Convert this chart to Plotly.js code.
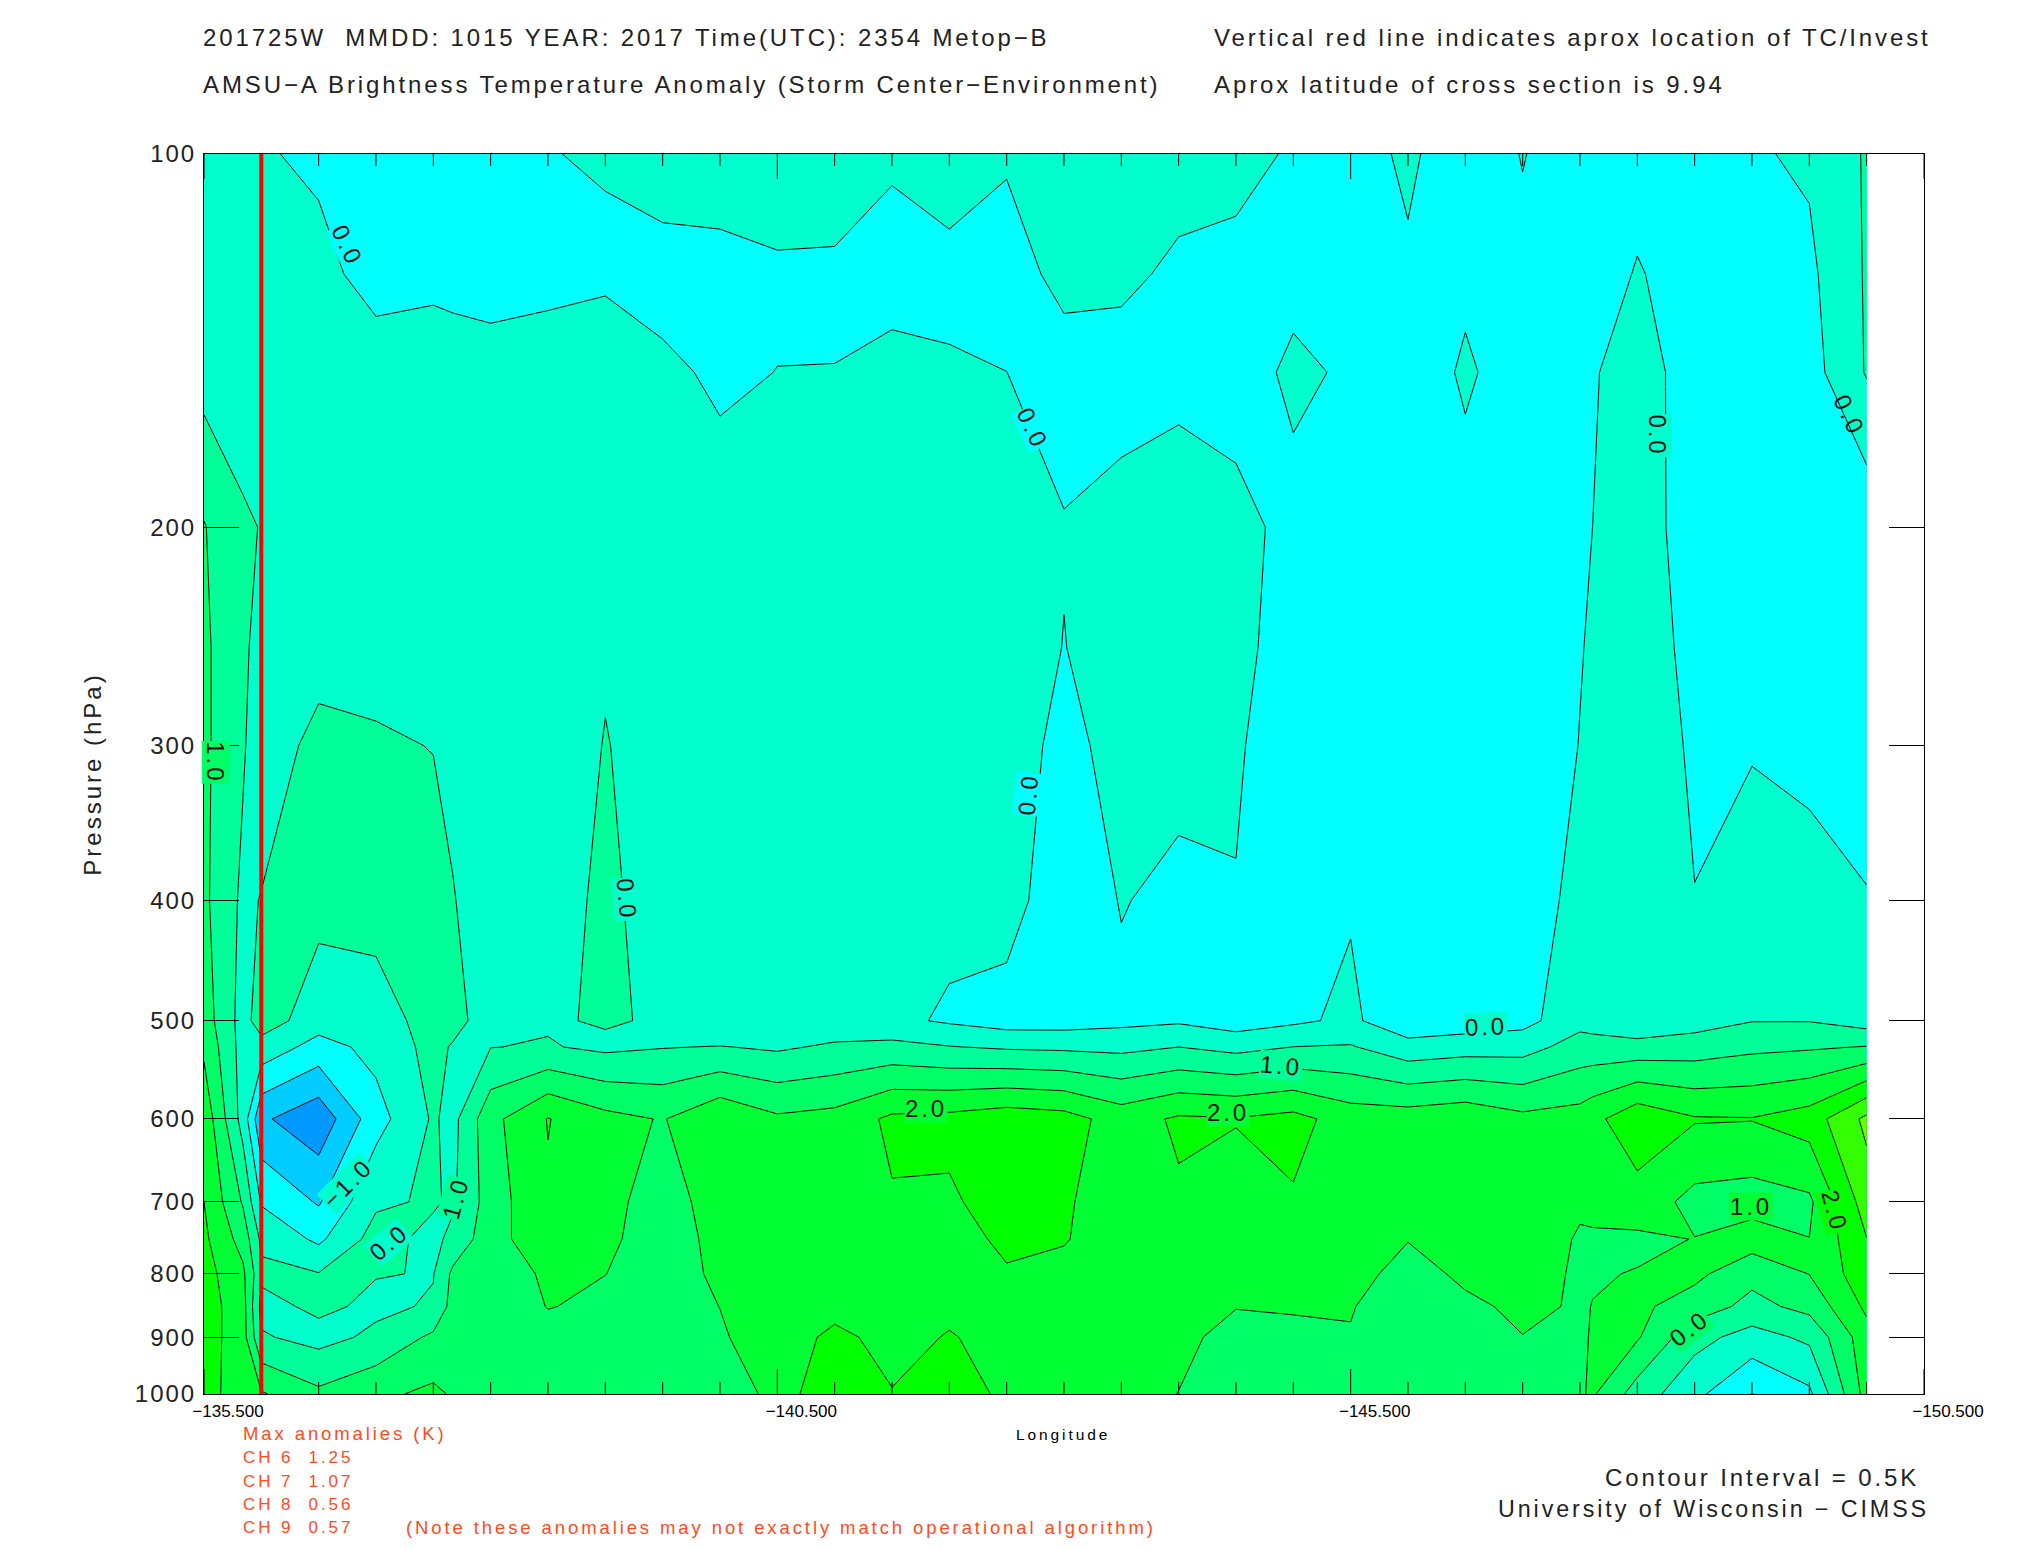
<!DOCTYPE html>
<html>
<head>
<meta charset="utf-8">
<script src="https://cdn.plot.ly/plotly-3.0.1.min.js"></script>
<style>
html,body{margin:0;padding:0;background:#fff}
.annotation-text{letter-spacing:2.9px}
.ytick text{letter-spacing:2px}
.g-ytitle text{letter-spacing:3px}
</style>
</head>
<body>
<div id="chart" style="width:2025px;height:1550px"></div>
<script>
const pressureLevels = [100,125,150,200,250,300,400,500,525,600,700,750,800,850,900,1000];
const longitudes = [-135.5,-135.84,-136,-136.5,-137,-137.5,-137.67,-138,-138.5,-139,-139.5,-140,-140.5,-141,-141.5,-142,-142.5,-143,-143.5,-144,-144.5,-145,-145.5,-146,-146.5,-147,-147.5,-147.61,-148,-148.5,-149,-149.5,-150];
const anomalyColumns = [
[.3,.3,.3,1.03,1.1,1.1,1.1,1.25,1.41,1.85,2.0,2.1,2.2,2.25,2.25,2.3],
[.2,.2,.35,.54,.55,.55,.4,.3,.3,.3,.95,1.3,1.6,1.7,1.7,1.6],
[.05,.1,.4,.49,.4,.22,.52,.75,.31,-.92,-.05,.4,.6,.35,.55,1.55],
[-.1,.158,.4,.3,.3,.65,.65,.23,-.19,-1.35,-.55,-.1,.52,.6,.34,1.1],
[-.3,-.2,.265,.3,.35,.55,.7,.27,.147,-.195,.42,.7,.52,.4,.6,1.4],
[-.3,-.15,.325,.3,.3,.49,.65,.7,.66,.56,.56,.35,.48,.55,1.1,1.6],
[-.3,-.17,.26,.3,.3,.4,.52,.7,.45,.35,.42,.65,1.1,1.2,1.25,1.45],
[-.3,-.2,.2,.3,.3,.3,.28,.2,.49,1.35,1.25,1.3,1.15,1.1,1.2,1.3],
[-.015,-.15,.255,.3,.25,.2,.33,.445,.537,2.02,1.94,1.85,1.6,1.52,1.3,1.3],
[.045,-.1,.35,.3,.45,.52,.58,.55,.4,1.65,1.6,1.57,1.505,1.4,1.3,1.25],
[.2,-.15,.077,.3,.3,.3,.33,.445,.48,1.47,1.35,1.33,1.3,1.3,1.3,1.2],
[.25,-.15,-.063,.16,.3,.3,.3,.02,.52,1.92,1.65,1.6,1.58,1.505,1.45,1.1],
[.3,-.075,.005,.3,.3,.3,.3,.02,.43,1.58,1.8,1.8,1.8,1.8,1.75,1.7],
[.3,-.09,.009,.3,.3,.3,.3,.18,.575,1.67,1.75,1.8,1.8,1.85,2.11,2.46],
[.1,-.28,.215,.3,.3,.3,.3,.116,.64,2.1,1.96,1.9,1.85,1.85,1.85,2.02],
[.25,-.15,.06,.3,.3,.3,.15,-.067,.52,2.15,1.92,1.8,1.85,1.9,2.03,2.3],
[.08,-.3,.003,.3,.35,.425,.25,-.233,.44,2.3,2.25,2.1,1.955,1.85,1.85,1.88],
[.3,.2,-.3,.04,-.015,-.25,-.4,-.23,.41,2.2,2.07,2.03,1.88,1.85,1.85,1.85],
[.3,.1,-.2,.164,.3,.3,.03,-.133,.374,1.78,1.7,1.75,1.75,1.75,1.75,1.75],
[.2,-.09,-.2,.39,.3,.2,-.145,-.065,.5,2.07,1.94,1.85,1.75,1.7,1.65,1.49],
[.15,-.14,-.233,.164,.25,.08,-.03,-.256,.35,2.03,1.75,1.7,1.6,1.52,1.3,1.25],
[-.053,-.15,.1,-.156,-.4,-.4,-.3,-.09,.506,2.16,1.95,1.85,1.7,1.53,1.42,1.3],
[-.29,-.2,-.07,-.3,-.3,-.3,-.047,.1,.54,1.77,1.8,1.8,1.7,1.53,1.47,1.3],
[.12,-.1,-.43,-.3,-.3,-.3,-.3,-.37,.19,1.76,1.7,1.52,1.3,1.2,1.2,1.2],
[-.42,-.144,.1,-.27,-.3,-.3,-.3,-.286,.285,1.87,1.8,1.7,1.6,1.4,1.3,1.2],
[.03,-.17,-.35,-.35,-.3,-.3,-.3,-.165,.31,1.63,1.75,1.7,1.65,1.6,1.49,1.3],
[-.4,-.45,-.15,-.07,-.02,.011,.17,.347,.708,1.71,1.55,1.467,1.45,1.45,1.46,1.45],
[-.374,-.34,-.053,.0004,.044,.075,.199,.29,.704,1.853,1.602,1.454,1.465,1.51,1.52,1.56],
[-.28,.05,.29,.25,.27,.3,.3,.09,.69,2.36,1.785,1.41,1.52,1.6,1.55,.775],
[-.3,-.3,-.3,-.25,-.15,-.075,.01,.285,.75,2.04,1.35,1.51,1.62,1.27,.67,.13],
[-.05,-.3,-.3,-.3,-.2,-.02,.13,.484,.89,2.02,1.28,1.75,1.15,.85,.3,-.51],
[.07,-.1,-.2,-.3,-.3,-.07,.1,.482,.945,2.23,1.41,1.505,1.51,1.15,.6,-.1],
[.55,.55,.537,-.36,-.3,-.18,.02,.265,1.02,3.12,2.75,2.49,2.33,2.1,1.8,1.7]
];
const bandColors = ['#0099FF','#00CCFF','#00FFFF','#00FFCC','#00FF99','#00FF66','#00FF33','#00FF00','#33FF00','#66FF00'];
const stormLongitude = -136;
const pressureTicks = [100,200,300,400,500,600,700,800,900,1000];
const longitudeTicks = [-135.5,-140.5,-145.5,-150.5];
const longitudeMinorTicks = [-136,-136.5,-137,-137.5,-138,-138.5,-139,-139.5,-140,-141,-141.5,-142,-142.5,-143,-143.5,-144,-144.5,-145,-146,-146.5,-147,-147.5,-148,-148.5,-149,-149.5,-150];
const labelText = ['0.0','0.0','0.0','0.0','1.0','0.0','0.0','0.0','1.0','2.0','2.0','1.0','2.0','0.0','\u22121.0','0.0','1.0'];
const labelLon  = [-136.75,-142.73,-142.69,-139.19,-135.60,-148.18,-149.85,-146.68,-144.89,-141.80,-144.43,-148.99,-149.72,-148.45,-136.75,-137.11,-137.69];
const labelLogP = [2.074,2.221,2.516,2.601,2.491,2.227,2.211,2.704,2.735,2.770,2.773,2.849,2.852,2.947,2.830,2.878,2.842];
const labelAngle= [65,65,-85,85,90,90,65,-2,5,0,0,0,75,-38,-45,-40,-75];
const labelFill = ['#00FFFF','#00FFFF','#00FFFF','#00FFCC','#00FF66','#00FFCC','rgba(0,0,0,0)','#00FFCC','#00FF99','#00FF33','#00FF33','#00FF33','#00FF00','#00FF66','#00FFCC','#00FFCC','#00FF99'];
const headerLines = ['201725W  MMDD: 1015 YEAR: 2017 Time(UTC): 2354 Metop\u2212B','AMSU\u2212A Brightness Temperature Anomaly (Storm Center\u2212Environment)','Vertical red line indicates aprox location of TC/Invest','Aprox latitude of cross section is 9.94'];
const anomalyLines = ['Max anomalies (K)','CH 6  1.25','CH 7  1.07','CH 8  0.56','CH 9  0.57'];
const noteLine = '(Note these anomalies may not exactly match operational algorithm)';
const creditLines = ['Contour Interval = 0.5K','University of Wisconsin \u2212 CIMSS'];

const FONT = '"Liberation Sans", Arial, sans-serif';
const W = 2025, H = 1550, PLOT_H = 1240;
const px = (x,y,text,size,color,anchor,extra) => Object.assign({xref:'paper',yref:'paper',
  x:(x-204)/1720, y:(1394-y)/PLOT_H, text, showarrow:false, xanchor:anchor||'left', yanchor:'middle',
  font:{family:FONT,size,color:color||'#000'}}, extra||{});

const zRows = pressureLevels.map((_,r)=>anomalyColumns.map(c=>c[r]));
const colorscale = bandColors.map((c,i)=>[i/(bandColors.length-1),c]);

const annotations = [
  px(201,37,headerLines[0],24,'#222'),
  px(201,84,headerLines[1],24,'#222'),
  px(1212,37,headerLines[2],24,'#222'),
  px(1212,84,headerLines[3],24,'#222'),
  px(241,1433,anomalyLines[0],18.5,'#FF4A1C'),
  px(241,1457,anomalyLines[1],17,'#FF4A1C'),
  px(241,1481,anomalyLines[2],17,'#FF4A1C'),
  px(241,1504,anomalyLines[3],17,'#FF4A1C'),
  px(241,1527,anomalyLines[4],17,'#FF4A1C'),
  px(404,1527,noteLine,18.5,'#FF4A1C'),
  px(1063,1435,'Longitude',15.5,'#000','center'),
  px(1921,1477,creditLines[0],24,'#222','right'),
  px(1931,1509,creditLines[1],23.3,'#222','right')
];
labelText.forEach((t,i)=>annotations.push({
  xref:'x',yref:'y',x:labelLon[i],y:labelLogP[i],text:t,showarrow:false,
  textangle:labelAngle[i],bgcolor:labelFill[i],borderpad:0,
  font:{family:FONT,size:24,color:'#111'}
}));

// x tick marks along the bottom and top edges, scaled through the log pressure axis
const tickX = [], tickY = [];
const addTicks = (vals,lenPx) => vals.forEach(v=>{
  const d = Math.pow(10,lenPx/PLOT_H);
  tickX.push(v,v,null,v,v,null);
  tickY.push(1000,1000/d,null,100,100*d,null);
});
addTicks(longitudeTicks,25);
addTicks(longitudeMinorTicks,12);

const axisLine = {showline:true,linecolor:'#000',linewidth:1,mirror:'ticks',showgrid:false,zeroline:false};
const traces = [
 {type:'contour',x:longitudes,y:pressureLevels,z:zRows,autocontour:false,
  contours:{start:-1,end:3,size:.5,coloring:'fill',showlines:true},
  line:{color:'#000',width:1,smoothing:0},colorscale,showscale:false,hoverinfo:'skip',connectgaps:false},
 {type:'scatter',mode:'lines',x:tickX,y:tickY,line:{color:'#000',width:1},hoverinfo:'skip',showlegend:false,connectgaps:false},
 {type:'scatter',mode:'lines',x:[stormLongitude,stormLongitude],y:[pressureLevels[0],pressureLevels[pressureLevels.length-1]],
  line:{color:'#FF0000',width:4},hoverinfo:'skip',showlegend:false}
];
const layout = {
  width:W,height:H,paper_bgcolor:'#fff',plot_bgcolor:'#fff',showlegend:false,
  margin:{l:204,r:101,t:154,b:156,pad:0},font:{family:FONT,color:'#222'},
  xaxis:Object.assign({},axisLine,{range:[-135.5,-150.5],autorange:false,tickmode:'array',tickvals:longitudeTicks,ticktext:longitudeTicks.map(v=>'\u2212'+Math.abs(v).toFixed(3)),
    ticks:'',tickfont:{family:FONT,size:17,color:'#000'},ticklabelshift:-24,ticklabelstandoff:2,mirror:true}),
  yaxis:Object.assign({},axisLine,{type:'log',range:[3,2],autorange:false,tickmode:'array',tickvals:pressureTicks,ticktext:pressureTicks.map(String),
    ticks:'inside',ticklen:35,tickwidth:1,tickcolor:'#000',tickfont:{family:FONT,size:24,color:'#222'},ticklabelstandoff:2,
    title:{text:'Pressure (hPa)',font:{family:FONT,size:24,color:'#222'},standoff:26}}),
  annotations
};
Plotly.newPlot('chart',traces,layout,{staticPlot:true,displayModeBar:false});
</script>
</body>
</html>
